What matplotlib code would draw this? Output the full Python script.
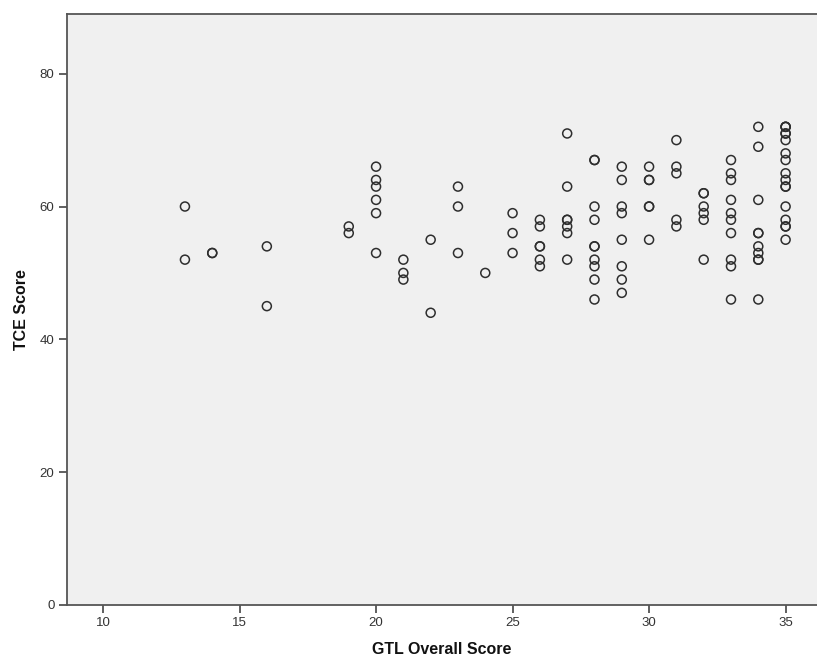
import matplotlib.pyplot as plt

# GTL Overall Score (x) dan TCE Score (y), satu baris per nilai GTL
gtl_score = [13, 13,
             14, 14,
             16, 16,
             19, 19,
             20, 20, 20, 20, 20, 20,
             21, 21, 21,
             22, 22,
             23, 23, 23,
             24,
             25, 25, 25,
             26, 26, 26, 26, 26, 26,
             27, 27, 27, 27, 27, 27, 27,
             28, 28, 28, 28, 28, 28, 28, 28, 28, 28,
             29, 29, 29, 29, 29, 29, 29, 29,
             30, 30, 30, 30, 30, 30,
             31, 31, 31, 31, 31,
             32, 32, 32, 32, 32, 32,
             33, 33, 33, 33, 33, 33, 33, 33, 33, 33,
             34, 34, 34, 34, 34, 34, 34, 34, 34, 34,
             35, 35, 35, 35, 35, 35, 35, 35, 35, 35, 35, 35, 35, 35, 35, 35, 35]

tce_score = [60, 52,
             53, 53,
             54, 45,
             57, 56,
             66, 64, 63, 61, 59, 53,
             52, 50, 49,
             55, 44,
             63, 60, 53,
             50,
             59, 56, 53,
             58, 57, 54, 54, 52, 51,
             71, 63, 58, 58, 57, 56, 52,
             67, 67, 60, 58, 54, 54, 52, 51, 49, 46,
             66, 64, 60, 59, 55, 51, 49, 47,
             66, 64, 64, 60, 60, 55,
             70, 66, 65, 58, 57,
             62, 62, 60, 59, 58, 52,
             67, 65, 64, 61, 59, 58, 56, 52, 51, 46,
             72, 69, 61, 56, 56, 54, 53, 52, 52, 46,
             72, 72, 72, 71, 71, 70, 68, 67, 65, 64, 63, 63, 60, 58, 57, 57, 55]

x_ticks = [10, 15, 20, 25, 30, 35]
y_ticks = [0, 20, 40, 60, 80]


def main():
    plt.rcParams['font.family'] = ['Liberation Sans', 'DejaVu Sans']

    fig = plt.figure(figsize=(8.17, 6.63), dpi=100)
    ax = fig.add_axes([0.082, 0.0875, 0.918, 0.8915])

    # latar abu-abu muda ala SPSS
    ax.set_facecolor('#f0f0f0')

    # titik lingkaran kosong
    ax.scatter(gtl_score, tce_score, s=42, facecolors='none',
               edgecolors='#2e2e2e', linewidths=1.1, zorder=3)

    ax.set_xlim(8.68, 36.15)
    ax.set_ylim(0, 89)
    ax.set_xticks(x_ticks)
    ax.set_yticks(y_ticks)

    # bingkai: kiri, atas, bawah saja
    for side in ['left', 'top', 'bottom']:
        ax.spines[side].set_color('#555555')
        ax.spines[side].set_linewidth(1.3)
    ax.spines['right'].set_visible(False)

    ax.tick_params(direction='out', length=6, width=1.2, color='#444444',
                   labelsize=9.5, labelcolor='#333333', pad=3)

    ax.set_xlabel('GTL Overall Score', fontsize=11.5, fontweight='bold',
                  color='#111111', labelpad=9)
    ax.set_ylabel('TCE Score', fontsize=11.5, fontweight='bold',
                  color='#111111', labelpad=8)

    fig.savefig('out.png', dpi=100)


if __name__ == "__main__":
    main()
